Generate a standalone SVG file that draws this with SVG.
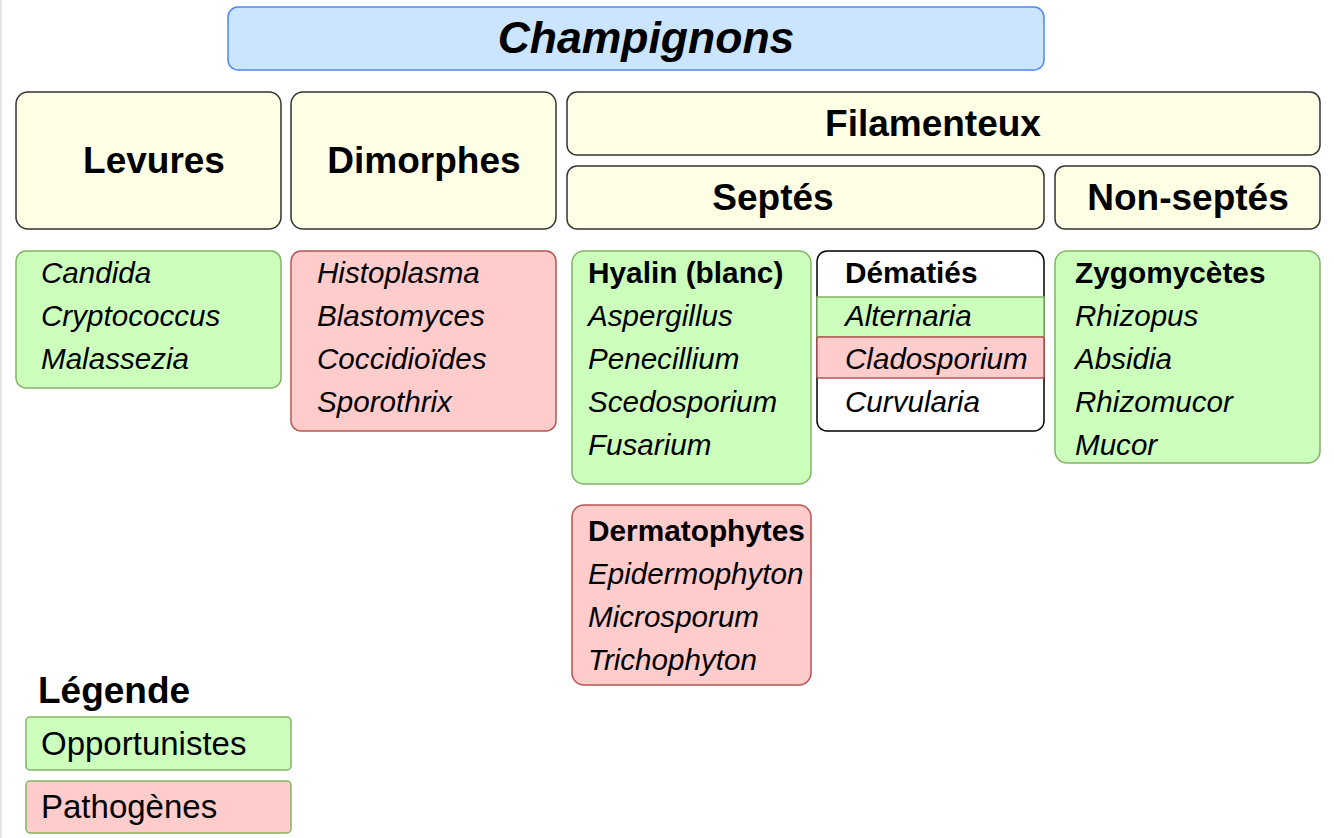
<svg xmlns="http://www.w3.org/2000/svg" width="1334" height="838" viewBox="0 0 1334 838">
<style>
.cat{fill:#ffffe6;stroke:#333333;stroke-width:1.5}
.opp{fill:#ccffbb;stroke:#82b366;stroke-width:1.5}
.pat{fill:#ffcccc;stroke:#b85450;stroke-width:1.5}
.h1{font-family:"Liberation Sans",Arial,sans-serif;font-weight:bold;font-size:37px;fill:#000;text-anchor:middle}
.it{font-family:"Liberation Sans",Arial,sans-serif;font-style:italic;font-size:29.6px;fill:#000}
.hb{font-family:"Liberation Sans",Arial,sans-serif;font-weight:bold;font-size:29.8px;fill:#000}
.lg{font-family:"Liberation Sans",Arial,sans-serif;font-size:33px;fill:#000}
</style>
<rect x="0" y="0" width="1334" height="838" fill="#ffffff"/>
<line x1="1" y1="0" x2="1" y2="838" stroke="#e6e6e6" stroke-width="2"/>
<g id="connectors"/>
<g id="champignons">
<rect x="228" y="7" width="816" height="63" rx="10" fill="#cce5ff" stroke="#4f88ef" stroke-width="1.5"/>
<text x="646" y="53" class="h1" style="font-style:italic;font-size:44.5px">Champignons</text>
</g>
<g id="levures">
<rect x="16" y="92" width="265" height="137" rx="12" class="cat"/>
<text x="154" y="173" class="h1">Levures</text>
</g>
<g id="dimorphes">
<rect x="291" y="92" width="265" height="137" rx="12" class="cat"/>
<text x="424" y="173" class="h1">Dimorphes</text>
</g>
<g id="filamenteux">
<rect x="567" y="92" width="753" height="63" rx="10" class="cat"/>
<text x="933" y="136" class="h1">Filamenteux</text>
</g>
<g id="septes">
<rect x="567" y="166" width="477" height="63" rx="10" class="cat"/>
<text x="773" y="210" class="h1">Septés</text>
</g>
<g id="non-septes">
<rect x="1055" y="166" width="265" height="63" rx="10" class="cat"/>
<text x="1188" y="210" class="h1">Non-septés</text>
</g>
<g id="levures-list">
<rect x="16" y="251" width="265" height="137" rx="10" class="opp"/>
<text x="41" y="283" class="it">Candida</text>
<text x="41" y="326" class="it">Cryptococcus</text>
<text x="41" y="369" class="it">Malassezia</text>
</g>
<g id="dimorphes-list">
<rect x="291" y="251" width="265" height="180" rx="10" class="pat"/>
<text x="317" y="283" class="it">Histoplasma</text>
<text x="317" y="326" class="it">Blastomyces</text>
<text x="317" y="369" class="it">Coccidioïdes</text>
<text x="317" y="412" class="it">Sporothrix</text>
</g>
<g id="hyalin">
<rect x="572" y="251" width="239" height="233" rx="12" class="opp"/>
<text x="588" y="283" class="hb">Hyalin (blanc)</text>
<text x="588" y="326" class="it">Aspergillus</text>
<text x="588" y="369" class="it">Penecillium</text>
<text x="588" y="412" class="it">Scedosporium</text>
<text x="588" y="455" class="it">Fusarium</text>
</g>
<g id="dematies">
<rect x="817" y="251" width="227" height="180" rx="10" fill="#ffffff" stroke="#000000" stroke-width="1.5"/>
<rect x="817" y="297" width="227" height="40" class="opp"/>
<rect x="817" y="337" width="227" height="41" rx="2" class="pat"/>
<text x="845" y="283" class="hb">Dématiés</text>
<text x="845" y="326" class="it">Alternaria</text>
<text x="845" y="369" class="it">Cladosporium</text>
<text x="845" y="412" class="it">Curvularia</text>
</g>
<g id="zygomycetes">
<rect x="1055" y="251" width="265" height="212" rx="12" class="opp"/>
<text x="1075" y="283" class="hb">Zygomycètes</text>
<text x="1075" y="326" class="it">Rhizopus</text>
<text x="1075" y="369" class="it">Absidia</text>
<text x="1075" y="412" class="it">Rhizomucor</text>
<text x="1075" y="455" class="it">Mucor</text>
</g>
<g id="dermatophytes">
<rect x="572" y="505" width="239" height="180" rx="12" class="pat"/>
<text x="588" y="541" class="hb">Dermatophytes</text>
<text x="588" y="584" class="it">Epidermophyton</text>
<text x="588" y="627" class="it">Microsporum</text>
<text x="588" y="670" class="it">Trichophyton</text>
</g>
<g id="legende">
<text x="38" y="703" class="h1" style="text-anchor:start">Légende</text>
</g>
<g id="legend-opportunistes">
<rect x="26" y="717" width="265" height="53" rx="4" class="opp"/>
<text x="41" y="755" class="lg">Opportunistes</text>
</g>
<g id="legend-pathogenes">
<rect x="26" y="781" width="265" height="52" rx="4" fill="#ffcccc" stroke="#82b366" stroke-width="1.5"/>
<text x="41" y="818" class="lg">Pathogènes</text>
</g>
</svg>
